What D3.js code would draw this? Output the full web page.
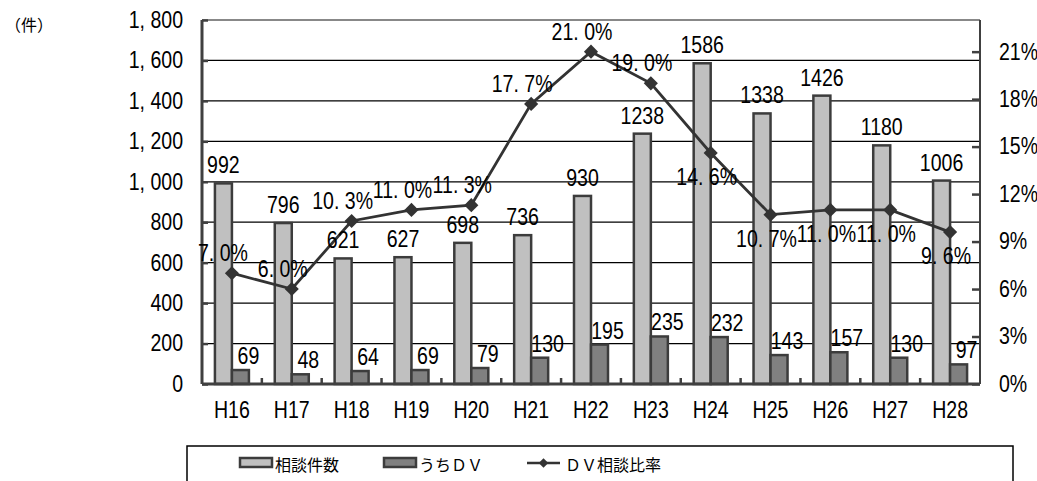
<!DOCTYPE html>
<html>
<head>
<meta charset="utf-8">
<script src="https://cdn.jsdelivr.net/npm/d3@7"></script>
<style>
  body { margin: 0; background: #fff; }
  text { font-family: "Liberation Sans", sans-serif; fill: #000; }
  .jp { font-family: "Noto Sans CJK JP", sans-serif; }
</style>
</head>
<body>
<div id="chart"></div>
<script>
// data
const years = ["H16", "H17", "H18", "H19", "H20", "H21", "H22", "H23", "H24", "H25", "H26", "H27", "H28"];
const consults = [992, 796, 621, 627, 698, 736, 930, 1238, 1586, 1338, 1426, 1180, 1006];
const dvCounts = [69, 48, 64, 69, 79, 130, 195, 235, 232, 143, 157, 130, 97];
const dvRates = [7.0, 6.0, 10.3, 11.0, 11.3, 17.7, 21.0, 19.0, 14.6, 10.7, 11.0, 11.0, 9.6];
const leftTicks = [0, 200, 400, 600, 800, 1000, 1200, 1400, 1600, 1800];
const rightTicks = [0, 3, 6, 9, 12, 15, 18, 21];
const legendNames = ["相談件数", "うちＤＶ", "ＤＶ相談比率"];

const width = 1037, height = 481;
const plotLeft = 202, plotRight = 980, plotTop = 20, plotBottom = 384;
const sx = 0.85; // squeeze the latin text to look like a narrow gothic face

const svg = d3.select("#chart").append("svg")
    .attr("width", width)
    .attr("height", height);

// squeeze text horizontally, keeping its x position
function narrow(sel) {
    sel.attr("font-size", 23)
        .attr("transform", `scale(${sx},1)`)
        .attr("x", function() { return (+this.getAttribute("x") || 0) / sx; });
}

const x = d3.scaleBand().domain(years).range([plotLeft, plotRight]);
const xs = d3.scaleBand().domain(["all", "dv"]).range([0, x.bandwidth()]).paddingOuter(0.76);
const yL = d3.scaleLinear().domain([0, 1800]).range([plotBottom, plotTop]);
const yR = d3.scaleLinear().domain([0, 23]).range([plotBottom, plotTop]);

// gridlines
svg.append("g")
    .selectAll("line")
    .data(leftTicks.slice(1))
    .enter().append("line")
    .attr("x1", plotLeft).attr("x2", plotRight)
    .attr("y1", d => yL(d)).attr("y2", d => yL(d))
    .attr("stroke", d => d === 1800 ? "#888" : "#000")
    .attr("stroke-width", d => d === 1800 ? 2 : 1.3);

// bars
const barStroke = "#3c3c3c";
svg.append("g")
    .selectAll("rect")
    .data(consults)
    .enter().append("rect")
    .attr("x", (d, i) => x(years[i]) + xs("all"))
    .attr("y", d => yL(d))
    .attr("width", xs.bandwidth())
    .attr("height", d => plotBottom - yL(d))
    .attr("fill", "#c0c0c0")
    .attr("stroke", barStroke)
    .attr("stroke-width", 2.5);

svg.append("g")
    .selectAll("rect")
    .data(dvCounts)
    .enter().append("rect")
    .attr("x", (d, i) => x(years[i]) + xs("dv"))
    .attr("y", d => yL(d))
    .attr("width", xs.bandwidth())
    .attr("height", d => plotBottom - yL(d))
    .attr("fill", "#808080")
    .attr("stroke", barStroke)
    .attr("stroke-width", 2.5);

// axes
const axL = svg.append("g")
    .attr("transform", `translate(${plotLeft},0)`)
    .call(d3.axisLeft(yL).tickValues(leftTicks).tickSize(-6).tickPadding(19)
        .tickFormat(d => d3.format(",")(d).replace(",", ", ")));
const axR = svg.append("g")
    .attr("transform", `translate(${plotRight},0)`)
    .call(d3.axisRight(yR).tickValues(rightTicks).tickSize(-8).tickPadding(19)
        .tickFormat(d => d + "%"));
[axL, axR].forEach(a => {
    a.attr("font-family", null);
    a.selectAll("text").call(narrow);
    a.selectAll(".tick line").attr("stroke", "#404040").attr("stroke-width", 2.5);
});
axL.select(".domain").attr("stroke", "#404040").attr("stroke-width", 3).attr("d", `M0,${plotTop}V${plotBottom}`);
axR.select(".domain").attr("stroke", "#404040").attr("stroke-width", 2).attr("d", `M0,${plotTop}V${plotBottom}`);

// bottom axis with category boundary ticks
const axB = svg.append("g")
    .attr("transform", `translate(0,${plotBottom})`)
    .call(d3.axisBottom(x).tickSize(0).tickPadding(18));
axB.attr("font-family", null);
axB.selectAll("text").call(narrow);
axB.select(".domain").attr("stroke", "#404040").attr("stroke-width", 3).attr("d", `M${plotLeft},0H${plotRight}`);
axB.append("g")
    .selectAll("line")
    .data(years.slice(1))
    .enter().append("line")
    .attr("x1", d => x(d)).attr("x2", d => x(d))
    .attr("y1", 0).attr("y2", -6)
    .attr("stroke", "#404040").attr("stroke-width", 2.5);

// rate line
const cx = i => x(years[i]) + x.bandwidth() / 2;
const line = d3.line()
    .x((d, i) => cx(i))
    .y(d => yR(d));
svg.append("path")
    .datum(dvRates)
    .attr("d", line)
    .attr("fill", "none")
    .attr("stroke", "#333")
    .attr("stroke-width", 2.8);

const diamond = d3.symbol().type(d3.symbolSquare).size(100);
svg.append("g")
    .selectAll("path")
    .data(dvRates)
    .enter().append("path")
    .attr("d", diamond)
    .attr("transform", (d, i) => `translate(${cx(i)},${yR(d)}) rotate(45)`)
    .attr("fill", "#333");

// data labels
svg.append("g")
    .selectAll("text")
    .data(consults)
    .enter().append("text")
    .attr("x", (d, i) => x(years[i]) + xs("all") + xs.bandwidth() / 2)
    .attr("y", d => yL(d) - 10)
    .attr("text-anchor", "middle")
    .text(d => d)
    .call(narrow);

svg.append("g")
    .selectAll("text")
    .data(dvCounts)
    .enter().append("text")
    .attr("x", (d, i) => x(years[i]) + xs("dv") + xs.bandwidth() / 2 + 8)
    .attr("y", d => yL(d) - 6)
    .attr("text-anchor", "middle")
    .text(d => d)
    .call(narrow);

svg.append("g")
    .selectAll("text")
    .data(dvRates)
    .enter().append("text")
    .attr("x", (d, i) => cx(i) - (i < 8 ? 9 : 4))
    .attr("y", (d, i) => i < 8 ? yR(d) - 12 : yR(d) + 32)
    .attr("text-anchor", "middle")
    .text(d => d3.format(".1f")(d).replace(".", ". ") + "%")
    .call(narrow);

// unit label
svg.append("text")
    .attr("class", "jp")
    .attr("x", 5).attr("y", 31)
    .attr("font-size", 16)
    .text("（件）");

// legend
const lg = svg.append("g");
lg.append("rect")
    .attr("x", 187).attr("y", 446)
    .attr("width", 826).attr("height", 60)
    .attr("fill", "#fff")
    .attr("stroke", "#000")
    .attr("stroke-width", 1.5);

const legendX = [240, 384, 527];
lg.append("rect")
    .attr("x", legendX[0]).attr("y", 458).attr("width", 32).attr("height", 9)
    .attr("fill", "#c0c0c0").attr("stroke", barStroke).attr("stroke-width", 2.5);
lg.append("rect")
    .attr("x", legendX[1]).attr("y", 458).attr("width", 32).attr("height", 9)
    .attr("fill", "#808080").attr("stroke", barStroke).attr("stroke-width", 2.5);
lg.append("line")
    .attr("x1", legendX[2]).attr("x2", legendX[2] + 33)
    .attr("y1", 463).attr("y2", 463)
    .attr("stroke", "#333").attr("stroke-width", 2.5);
lg.append("path")
    .attr("d", d3.symbol().type(d3.symbolSquare).size(45))
    .attr("transform", `translate(${legendX[2] + 16.5},463) rotate(45)`)
    .attr("fill", "#333");

lg.selectAll("text.jp")
    .data(legendNames)
    .enter().append("text")
    .attr("class", "jp")
    .attr("x", (d, i) => legendX[i] + (i === 2 ? 38 : 35))
    .attr("y", 471)
    .attr("font-size", 16)
    .text(d => d);
</script>
</body>
</html>
